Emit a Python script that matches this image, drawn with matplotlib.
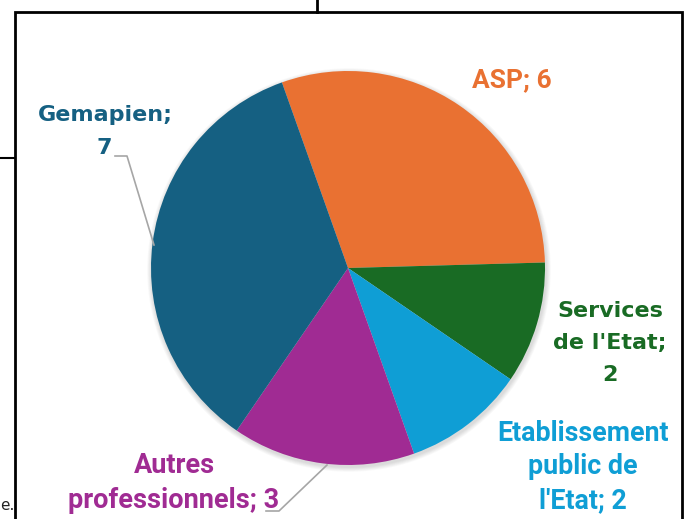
import matplotlib
matplotlib.use("Agg")
import matplotlib.pyplot as plt
from matplotlib.patches import Circle, Rectangle

# data (clockwise from ASP)
categories = ["ASP", "Services\nde l'Etat", "Etablissement\npublic de\nl'Etat", "Autres\nprofessionnels", "Gemapien"]
values = [6, 2, 2, 3, 7]
colors = ["#E97132", "#196B24", "#0F9ED5", "#A02B93", "#156082"]

W, H = 689, 519
fig = plt.figure(figsize=(W / 100, H / 100), dpi=100)
ax = fig.add_axes([0, 0, 1, 1])

cx, cy, r = 348, H - 268, 197

# soft shadow under the pie
for k in range(1, 7):
    ax.add_patch(Circle((cx + 1, cy - 2), r + k * 0.8, color="black", alpha=0.025, lw=0, zorder=1))

ax.pie(values, colors=colors, startangle=109.6, counterclock=False,
       center=(cx, cy), radius=r, frame=True,
       wedgeprops=dict(linewidth=0, zorder=2))
ax.set_xlim(0, W)
ax.set_ylim(0, H)
ax.axis("off")

# frame of the screenshot
ax.add_patch(Rectangle((15, -5), 667, H - 12 + 5, fill=False, lw=2, edgecolor="black", zorder=5))
ax.plot([317, 317], [H, H - 12], color="black", lw=2)
ax.plot([0, 15], [H - 158, H - 158], color="black", lw=1.5)
ax.text(0, H - 505, "e.", fontsize=11, va="center", ha="left", color="#222222")

narrow = ["Roboto", "DejaVu Sans"]
wide = ["DejaVu Sans"]

def lab(x, y, s, col, fam, fs, ls):
    ax.text(x, H - y, s, color=col, fontsize=fs, fontweight="bold", family=fam,
            ha="center", va="center", linespacing=ls, zorder=6)

lab(512, 80, f"{categories[0]}; {values[0]}", colors[0], narrow, 19, 1.3)
lab(610, 343, f"{categories[1]};\n{values[1]}", colors[1], wide, 16, 1.75)
lab(583, 467, f"{categories[2]}; {values[2]}", colors[2], narrow, 19.3, 1.33)
lab(174, 483, f"{categories[3]}; {values[3]}", colors[3], narrow, 19.5, 1.38)
lab(105, 115, f"{categories[4]};", colors[4], wide, 16, 1.3)
lab(104, 148, f"{values[4]}", colors[4], wide, 16, 1.3)

# leader lines
ax.plot([115, 127, 154], [H - 156, H - 156, H - 245], color="#A6A6A6", lw=1.2, zorder=6)
ax.plot([266, 279, 327], [H - 511, H - 511, H - 465], color="#A6A6A6", lw=1.2, zorder=6)

fig.savefig("out.png", dpi=100)
